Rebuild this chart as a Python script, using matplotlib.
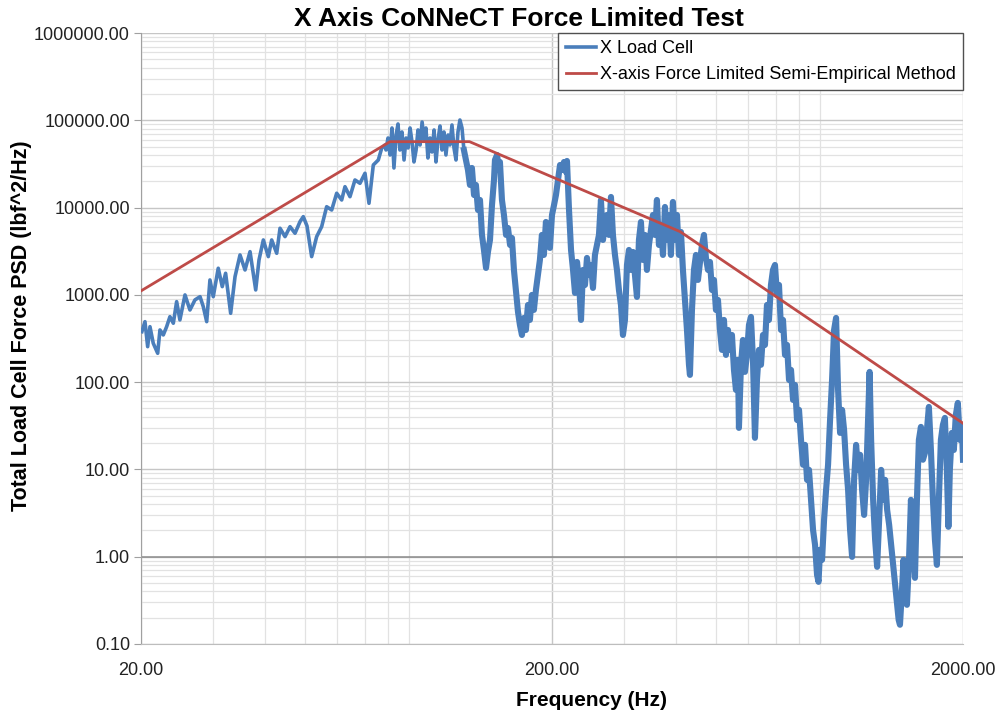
import numpy as np
import matplotlib
matplotlib.use("Agg")
import matplotlib.pyplot as plt
from matplotlib.ticker import FixedLocator, FixedFormatter, NullFormatter

plt.rcParams['font.family'] = ['Liberation Sans', 'DejaVu Sans']

# %% data
# X load cell PSD trace (Hz, lbf^2/Hz)
load_freq = [20.1, 20.45, 20.76, 21.03, 21.42, 21.96, 22.24, 22.66, 23.09, 23.52,
             23.97, 24.42, 24.87, 25.59, 26.31, 27.06, 27.84, 28.35, 28.90, 29.43,
             29.98, 30.83, 31.53, 32.13, 33.05, 33.87, 34.83, 35.82, 36.84, 38.03,
             38.74, 39.69, 40.81, 41.59, 42.78, 43.58, 44.82, 46.09, 47.40, 48.74,
             49.65, 50.69, 52.03, 53.51, 55.03, 56.59, 58.21, 59.86, 61.56, 62.71,
             64.49, 66.32, 68.21, 70.15, 71.74, 73.49, 75.58, 77.02, 78.47,
             78.9, 79.8, 80.7, 81.6, 82.5, 83.5, 84.4, 85.3, 86.3, 87.3,
             88.3, 89.3, 90.3, 91.3, 92.3, 93.4, 94.4, 95.5, 96.6, 97.7,
             98.7, 99.8, 101.0, 102.1, 103.3, 104.4, 105.6, 106.8, 108.0, 109.2,
             110.4, 111.7, 112.9, 114.2, 115.5, 116.8, 118.1, 119.4, 120.8, 122.1,
             123.5, 124.9, 126.3, 127.7, 129.2, 130.6, 132.1, 133.6, 135.1, 136.6,
             138.2, 139.7, 141.3, 142.9, 144.5, 145.3, 147.0, 148.6, 149.4, 151.1,
             152.8, 154.6, 156.3, 158.1, 159.8, 161.6, 163.4, 165.3, 167.1, 169.0,
             170.9, 172.8, 174.8, 176.7, 178.7, 180.7, 182.8, 184.8, 186.9, 189.0,
             191.1, 193.3, 195.5, 197.7, 200.0, 202.3, 204.5, 206.8, 209.2, 211.5,
             213.9, 216.3, 217.5, 220.0, 222.5, 225.0, 227.5, 230.1, 232.6, 235.3,
             237.9, 240.6, 243.3, 246.0, 248.8, 251.6, 254.4, 257.3, 260.2, 263.1,
             266.1, 269.1, 272.1, 275.2, 278.3, 281.4, 284.6, 287.8, 291.0, 294.3,
             297.6, 301.0, 304.4, 307.8, 311.3, 314.8, 318.3, 321.9, 325.5, 329.2,
             332.9, 336.6, 340.4, 344.3, 348.1, 352.1, 356.0, 360.0, 364.1, 368.2,
             372.4, 376.6, 380.8, 385.1, 389.4, 393.8, 398.3, 402.8, 407.3, 411.9,
             416.5, 421.2, 426.0, 430.8, 433.2, 438.1, 443.0, 448.0, 453.1, 458.2,
             463.3, 468.6, 473.8, 479.2, 484.6, 490.0, 495.6, 501.1, 506.8, 512.5,
             518.3, 524.1, 530.0, 536.0, 542.0, 548.1, 554.3, 560.5, 566.9, 570.0,
             576.5, 582.9, 589.5, 596.2, 602.9, 609.7, 616.6, 623.5, 630.6, 637.7,
             644.9, 652.1, 659.5, 666.9, 674.4, 682.0, 689.7, 697.5, 705.5, 713.4,
             721.5, 729.6, 737.8, 746.2, 754.6, 763.1, 771.7, 780.4, 789.2, 798.1,
             807.1, 816.2, 825.4, 834.7, 844.1, 853.7, 863.3, 873.0, 882.9, 890.3,
             897.9, 908.1, 918.3, 928.7, 939.1, 949.7, 960.4, 971.3, 982.2, 993.3,
             1004.5, 1015.8, 1027.3, 1038.9, 1050.6, 1062.4, 1074.4, 1086.5, 1098.8, 1111.2,
             1123.7, 1136.4, 1149.2, 1162.2, 1175.3, 1185.2, 1195.3, 1208.8, 1222.4, 1236.2,
             1250.2, 1264.3, 1278.5, 1292.9, 1307.5, 1322.3, 1337.2, 1352.3, 1367.5, 1382.9,
             1394.6, 1405, 1421, 1433, 1445, 1461, 1478, 1494, 1511, 1528,
             1545, 1562, 1580, 1598, 1616, 1634, 1652, 1671, 1690, 1709,
             1728, 1747, 1767, 1787, 1807, 1827, 1843, 1858, 1879, 1900,
             1921, 1943, 1965, 1987, 2000]
load_psd = [379, 493, 255, 432, 279, 214, 396, 347, 432, 562,
            473, 836, 516, 998, 671, 875, 953, 733, 493, 1482,
            953, 2018, 1242, 1767, 615, 1616, 2866, 1928, 3126, 1138,
            2512, 4256, 2742, 4256, 2994, 5794, 4645, 6043, 5077, 6891,
            7870, 6152, 2742, 4645, 6043, 10230, 9380, 14590, 12220, 17340,
            13330, 20710, 18970, 24720, 11200, 30760, 35090, 47780, 52120,
            45680, 62700, 40050, 81620, 28420, 67880, 90700, 45680, 73450, 35100,
            62700, 48170, 81620, 56430, 33310, 45680, 77430, 52140, 95600, 59480,
            81620, 37000, 62700, 43350, 77430, 33310, 59480, 86030, 45680, 73450,
            40050, 67880, 52140, 88330, 48170, 35100, 73450, 100800, 81620, 45680,
            35100, 26960, 18160, 28420, 13950, 18160, 9390, 12220, 4857, 3269,
            2034, 3101, 4256, 10710, 20720, 35100, 40050, 26960, 33310, 12220,
            8230, 4857, 5841, 3730, 4487, 1929, 1138, 637, 452, 347,
            544, 396, 766, 516, 998, 672, 1138, 1691, 2512, 4857,
            2866, 6841, 4256, 3447, 8230, 10710, 13950, 20720, 30770, 26960,
            33310, 25580, 34200, 9390, 3269, 1929, 1052, 2383, 1482, 516,
            1929, 1299, 2648, 1691, 2201, 1200, 2866, 3730, 4857, 12220,
            4256, 6321, 8230, 4857, 13230, 4857, 2866, 1929, 1138, 766,
            347, 516, 2201, 3269, 1929, 3101, 1691, 947, 4256, 6841,
            2512, 4857, 1929, 3730, 5541, 8230, 4857, 12220, 3730, 6321,
            2866, 10160, 4256, 8230, 2866, 11600, 4256, 8230, 2866, 5256,
            1929, 875, 396, 158, 121, 672, 1929, 2866, 1482, 2383,
            3730, 4857, 2648, 1929, 2383, 1138, 1482, 672, 875, 396,
            234, 516, 205, 396, 234, 347, 138, 81.5, 180, 29.9,
            158, 304, 131, 205, 452, 559, 180, 23.0, 106, 234,
            158, 347, 267, 766, 516, 1299, 1929, 2201, 998, 1299,
            396, 516, 205, 267, 106, 138, 62.6, 92.9, 36.9, 48.1,
            21.8, 11.3, 19.1, 7.59, 9.88, 4.48, 2.03, 1.37, 0.619, 0.515,
            1.20, 0.920, 2.64, 5.83, 11.3, 36.9, 106, 396, 544, 81.5,
            26.2, 48.1, 28.4, 11.3, 5.83, 2.03, 0.995, 7.59, 19.1, 9.88,
            14.7, 5.83, 3.01, 7.59, 36.9, 131, 21.8, 4.48, 1.56, 0.765,
            2.64, 9.88, 4.48, 7.59, 3.44, 2.32, 1.37, 0.806, 0.476, 0.281,
            0.189, 0.166, 0.417, 0.920, 0.365, 0.281, 0.920, 4.48, 1.56, 0.572,
            4.48, 21.8, 30.7, 12.9, 15.5, 28.4, 52.0, 16.7, 4.48, 1.56,
            0.806, 4.48, 21.8, 32.4, 38.9, 9.88, 2.20, 9.88, 26.2, 16.7,
            42.1, 57.8, 21.8, 32.4, 12.9]

# force limited semi-empirical spec breakpoints
spec_freq = [20, 80.7, 126, 410, 2000]
spec_psd = [1110, 56900, 56900, 5300, 33.8]

y_ticks = [0.1, 1, 10, 100, 1000, 10000, 100000, 1000000]
x_ticks = [20, 200, 2000]

# %%
fig = plt.figure(figsize=(10, 7.16), dpi=100)
ax = fig.add_axes([0.141, 0.1006, 0.822, 0.8533])

ax.set_xscale('log')
ax.set_yscale('log')
ax.set_xlim(20, 2000)
ax.set_ylim(0.1, 1000000)

load_freq = np.array(load_freq)
load_psd = np.array(load_psd)
dense = load_freq >= 122  # above ~120 Hz the trace is a thick noisy band

ax.plot(load_freq, load_psd, color='#4A7EBB', linewidth=2.6, label='X Load Cell', zorder=3)
ax.plot(load_freq[dense], load_psd[dense], color='#4A7EBB', linewidth=4.4,
        solid_joinstyle='round', zorder=3)
ax.plot(spec_freq, spec_psd, color='#BE4B48', linewidth=2.0,
        label='X-axis Force Limited Semi-Empirical Method', zorder=4)

# excel style grid
ax.xaxis.set_major_locator(FixedLocator(x_ticks))
ax.xaxis.set_major_formatter(FixedFormatter(['%.2f' % v for v in x_ticks]))
ax.xaxis.set_minor_locator(FixedLocator([m * 10 ** e for e in (1, 2) for m in range(2, 10)
                                         if 20 < m * 10 ** e < 2000]))
ax.xaxis.set_minor_formatter(NullFormatter())
ax.yaxis.set_major_locator(FixedLocator(y_ticks))
ax.yaxis.set_major_formatter(FixedFormatter(['%.2f' % v for v in y_ticks]))
ax.yaxis.set_minor_locator(FixedLocator([m * 10.0 ** e for e in range(-1, 6) for m in range(2, 10)]))
ax.yaxis.set_minor_formatter(NullFormatter())

ax.grid(which='major', color='#C6C6C6', linewidth=1.0, zorder=0)
ax.grid(which='minor', color='#E2E2E2', linewidth=0.9, zorder=0)
ax.set_axisbelow(True)
ax.axhline(1, color='#8C8C8C', linewidth=1.1, zorder=1)

for side in ('top', 'right'):
    ax.spines[side].set_visible(False)
ax.spines['left'].set_color('#A0A0A0')
ax.spines['bottom'].set_color('#BDBDBD')

ax.tick_params(axis='y', which='major', length=5, color='#A0A0A0', labelsize=13, labelcolor='#222222', pad=3)
ax.tick_params(axis='x', which='major', length=0, labelsize=13, labelcolor='#222222', pad=13)
ax.tick_params(which='minor', length=0)

fig.text(0.519, 0.974, 'X Axis CoNNeCT Force Limited Test', ha='center', va='center',
         fontsize=19, fontweight='bold')
fig.text(0.592, 0.022, 'Frequency (Hz)', ha='center', va='center', fontsize=15, fontweight='bold')
fig.text(0.022, 0.545, 'Total Load Cell Force PSD (lbf^2/Hz)', ha='center', va='center',
         rotation=90, fontsize=15.5, fontweight='bold')

leg = ax.legend(loc='upper right', bbox_to_anchor=(1.0, 1.0), frameon=True, fancybox=False,
                fontsize=13, handlelength=1.7, handletextpad=0.2, borderpad=0.4,
                labelspacing=0.5, borderaxespad=0.0)
leg.get_frame().set_edgecolor('#505050')
leg.get_frame().set_linewidth(1.0)
leg.get_frame().set_alpha(1.0)

fig.savefig('out.png', dpi=100)
